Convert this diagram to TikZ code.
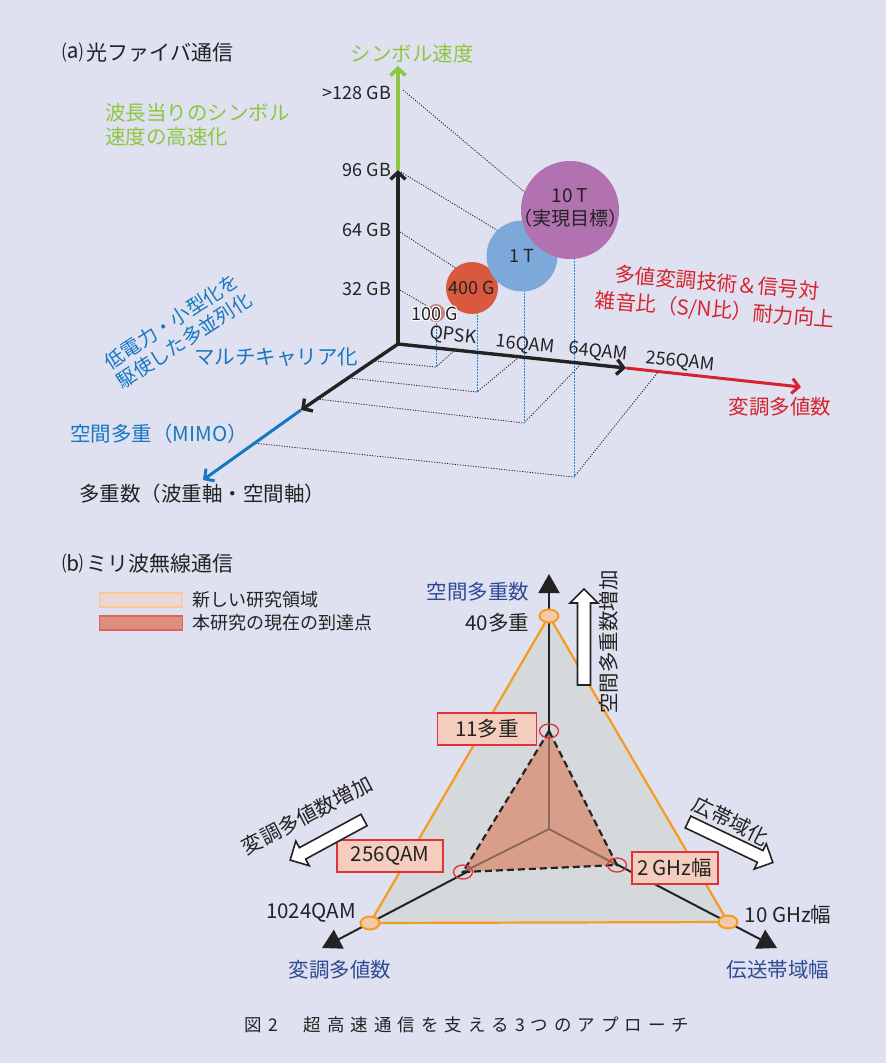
\documentclass[tikz,border=0pt]{standalone}
\usepackage{fontspec}
\setmainfont{Noto Sans CJK JP}
\usetikzlibrary{arrows.meta}
\definecolor{bg}{RGB}{223,225,240}
\definecolor{ink}{RGB}{35,35,35}
\definecolor{grn}{RGB}{141,198,63}
\definecolor{blu}{RGB}{22,120,195}
\definecolor{dotblu}{RGB}{20,140,215}
\definecolor{rd}{RGB}{215,35,45}
\definecolor{dblu}{RGB}{46,74,150}
\definecolor{bA}{RGB}{196,110,105}
\definecolor{bB}{RGB}{217,88,62}
\definecolor{bC}{RGB}{125,168,218}
\definecolor{bD}{RGB}{178,114,176}
\definecolor{org}{RGB}{245,155,30}
\definecolor{trigray}{RGB}{213,217,219}
\definecolor{innerfill}{RGB}{217,158,137}
\definecolor{innerline}{RGB}{140,106,92}
\definecolor{boxfill}{RGB}{245,205,190}
\definecolor{boxline}{RGB}{225,50,60}
\definecolor{legA}{RGB}{236,214,212}
\definecolor{legAl}{RGB}{247,200,150}
\definecolor{legB}{RGB}{222,142,124}
\definecolor{legBl}{RGB}{217,100,90}
\definecolor{ellfill}{RGB}{245,200,170}
\def\spacedloop#1{\ifx#1\relax\else#1\hspace{6pt}\expandafter\spacedloop\fi}
\newcommand\spacedtext[1]{\spacedloop#1\relax}
\begin{document}
\begin{tikzpicture}[x=1pt,y=-1pt,
  every node/.style={inner sep=0pt,outer sep=0pt,text=ink},
  jp/.style={font=\fontsize{20.5}{27}\selectfont},
  jpt/.style={font=\fontsize{21}{25}\selectfont},
  jpm/.style={font=\fontsize{18}{22}\selectfont},
  barb/.style={-{Straight Barb[length=7pt,width=15pt]}},
  axisA/.style={line width=3.4pt,draw=ink,barb},
  flr/.style={draw=ink,line width=0.8pt,dash pattern=on 1.2pt off 1.4pt},
  vdot/.style={draw=dotblu,line width=0.9pt,dash pattern=on 1.5pt off 1.5pt},
  bubble/.style={circle,inner sep=0pt},
  axisB/.style={draw=ink,line width=2pt,-{Triangle[length=19pt,width=21pt]}},
  valbox/.style={draw=boxline,fill=boxfill,line width=1.2pt,minimum height=32pt,jp},
  hollow/.style={draw=ink,fill=white,line width=1.6pt,line join=miter}
]
\useasboundingbox (0,0) rectangle (886,1063);
\fill[bg] (0,0) rectangle (886,1063);

% ================= (a) =================
\node[jpt,anchor=west] (ta) at (62,53) {⒜\hspace{4pt}光ファイバ通信};
\coordinate (O) at (398,344);
\coordinate (Y96) at (398,170);
\coordinate (Ytop) at (398,66);
\coordinate (Xb) at (626,368);
\coordinate (Xr) at (801,387);
\coordinate (Zb) at (301,410);
\coordinate (Zt) at (203,480);

% dotted projection lines from vertical axis
\coordinate (p128) at (403,90);
\coordinate (p96) at (401,172);
\coordinate (p64) at (400,232);
\coordinate (p32) at (400,290);
\coordinate (e128) at (540,205);
\coordinate (e96) at (510,238);
\coordinate (e64) at (468,276);
\coordinate (e32) at (434,310);
\draw[flr] (p128) -- (e128);
\draw[flr] (p96) -- (e96);
\draw[flr] (p64) -- (e64);
\draw[flr] (p32) -- (e32);

% floor lines
\coordinate (d1) at (375,361);
\coordinate (c1) at (436,367);
\coordinate (a1) at (455,350);
\coordinate (d2) at (349,378);
\coordinate (c2) at (477,392);
\coordinate (a2) at (519,357);
\coordinate (d3) at (317,399);
\coordinate (c3) at (524,423);
\coordinate (a3) at (582,363);
\coordinate (d4) at (253,443);
\coordinate (c4) at (574,477);
\coordinate (a4) at (658,372);
\draw[flr] (d1) -- (c1) -- (a1);
\draw[flr] (d2) -- (c2) -- (a2);
\draw[flr] (d3) -- (c3) -- (a3);
\draw[flr] (d4) -- (c4) -- (a4);

% vertical blue dotted
\coordinate (u1) at (436,320);
\coordinate (u2) at (477,312);
\coordinate (u3) at (524,290);
\coordinate (u4) at (574,258);
\draw[vdot] (u1) -- (c1);
\draw[vdot] (u2) -- (c2);
\draw[vdot] (u3) -- (c3);
\draw[vdot] (u4) -- (c4);

% axes
\draw[axisA] (O) -- (Y96);
\draw[line width=3.6pt,draw=grn,barb] (Y96) -- (Ytop);
\draw[axisA] (O) -- (Xb);
\draw[line width=3pt,draw=rd,barb] (Xb) -- (Xr);
\draw[axisA] (O) -- (Zb);
\draw[line width=3pt,draw=blu,barb] (Zb) -- (Zt);

% bubbles
\node[bubble,fill=bA,opacity=0.8,minimum size=18pt] (g100) at (436,313) {};
\node[bubble,fill=bB,minimum size=52pt] (g400) at (472,288) {};
\node[bubble,fill=bC,minimum size=71pt] (g1t) at (522,256) {};
\node[bubble,fill=bD,minimum size=98pt] (g10t) at (570,210) {};
\node[jpm] (l400) at (472,288) {400 G};
\node[jpm] (l1t) at (522,256) {1 T};
\node[font=\fontsize{19}{23}\selectfont,align=center] (l10t) at (570,208) {10 T\\（実現目標）};
\foreach \dx/\dy [count=\i] in {1/0,-1/0,0/1,0/-1,1/1,-1/1,1/-1,-1/-1}
  \node[jpm,text=white] (h\i) at ({435+\dx},{314+\dy}) {100 G};
\node[jpm] (l100) at (435,314) {100 G};

% axis labels
\node[jp,anchor=south,text=grn] (lsym) at (412,63) {シンボル速度};
\node[jpm,anchor=east] (y128) at (391,93) {>128 GB};
\node[jpm,anchor=east] (y96) at (391,170) {96 GB};
\node[jpm,anchor=east] (y64) at (391,230) {64 GB};
\node[jpm,anchor=east] (y32) at (391,289) {32 GB};
\node[jp,anchor=west,text=grn,align=left,font=\fontsize{20.5}{24}\selectfont] (lwave) at (105,125) {波長当りのシンボル\\速度の高速化};
\node[jpm,rotate=-6] (qpsk) at (453,336) {QPSK};
\node[jpm,rotate=-6] (q16) at (525,345) {16QAM};
\node[jpm,rotate=-6] (q64) at (598,352) {64QAM};
\node[jpm,rotate=-6] (q256) at (680,362) {256QAM};
\node[jp,text=rd,rotate=-4.7,align=center] (lred) at (716,297) {多値変調技術＆信号対\\雑音比（S/N比）耐力向上};
\node[jp,text=rd] (lmod) at (780,407) {変調多値数};
\node[text=blu,rotate=33,align=left,font=\fontsize{19.5}{23}\selectfont] (lpar) at (178,331) {低電力・小型化を\\駆使した多並列化};
\node[jp,text=blu] (lmc) at (276,357) {マルチキャリア化};
\node[jp,text=blu] (lmimo) at (159,434) {空間多重（MIMO）};
\node[jp,anchor=west] (lmux) at (79,494) {多重数（波重軸・空間軸）};

% ================= (b) =================
\node[jpt,anchor=west] (tb) at (62,564) {⒝\hspace{4pt}ミリ波無線通信};
\node[draw=legAl,fill=legA,line width=1.2pt,minimum width=83pt,minimum height=14pt] (legr1) at (141,600) {};
\node[draw=legBl,fill=legB,line width=1.2pt,minimum width=83pt,minimum height=14pt] (legr2) at (141,623) {};
\node[jpm,anchor=west] (legt1) at (192,600) {新しい研究領域};
\node[jpm,anchor=west] (legt2) at (192,623) {本研究の現在の到達点};

\coordinate (C) at (549,829);
\coordinate (T) at (549,616);
\coordinate (L) at (370,923);
\coordinate (R) at (728,922);
\coordinate (Ta) at (549,574);
\coordinate (La) at (322,948);
\coordinate (Ra) at (777,948);
\coordinate (iT) at (549,731);
\coordinate (iL) at (463,872);
\coordinate (iR) at (617,865);

\filldraw[draw=org,fill=trigray,line width=2.2pt,line join=miter] (T) -- (L) -- (R) -- cycle;
\draw[axisB] (C) -- (Ta);
\draw[axisB] (C) -- (La);
\draw[axisB] (C) -- (Ra);
\fill[innerfill] (iT) -- (iL) -- (iR) -- cycle;
\draw[innerline,line width=2pt] (C) -- (iT);
\draw[innerline,line width=2pt] (C) -- (iL);
\draw[innerline,line width=2pt] (C) -- (iR);
\draw[ink,line width=2.2pt,dash pattern=on 7pt off 4pt] (iT) -- (iL) -- (iR) -- cycle;

% outer vertex ellipses
\draw[org,fill=ellfill,line width=2pt] (T) ellipse [x radius=9.5pt,y radius=6.5pt];
\draw[org,fill=ellfill,line width=2pt] (L) ellipse [x radius=9.5pt,y radius=6.5pt];
\draw[org,fill=ellfill,line width=2pt] (R) ellipse [x radius=9.5pt,y radius=6.5pt];
% inner vertex markers
\foreach \p in {iT,iL,iR}{
  \draw[boxline,line width=1.3pt] (\p) ellipse [x radius=9.5pt,y radius=7pt];
  \fill[ink] (\p) circle [radius=1.6pt];
}

% value boxes
\node[valbox,minimum width=99pt] (b11) at (487,729) {11多重};
\node[valbox,minimum width=106pt] (b256) at (390,856) {256QAM};
\node[valbox,minimum width=86pt] (b2g) at (675,868) {2\,GHz幅};

% outer labels
\node[jp,text=dblu] (lsp) at (478,592) {空間多重数};
\node[jp,anchor=east] (l40) at (529,623) {40多重};
\node[jp] (l1024) at (311,913) {1024QAM};
\node[jp,text=dblu] (lmodb) at (340,970) {変調多値数};
\node[jp] (l10g) at (788,915) {10 GHz幅};
\node[jp,text=dblu] (lbw) at (778,970) {伝送帯域幅};

% hollow arrows
\begin{scope}[shift={(584,685)},rotate=90]
  \draw[hollow] (0,6.5) -- (82,6.5) -- (82,14) -- (96,0) -- (82,-14) -- (82,-6.5) -- (0,-6.5) -- cycle;
\end{scope}
\node[jp,rotate=90] (lup) at (609,642) {空間多重数増加};
\begin{scope}[shift={(364,820)},rotate=208.5]
  \draw[hollow] (0,6.5) -- (70,6.5) -- (70,14) -- (84,0) -- (70,-14) -- (70,-6.5) -- (0,-6.5) -- cycle;
\end{scope}
\node[jp,rotate=27.5] (lleft) at (307,815) {変調多値数増加};
\begin{scope}[shift={(688,822)},rotate=-25.5]
  \draw[hollow] (0,6.5) -- (80,6.5) -- (80,14) -- (94,0) -- (80,-14) -- (80,-6.5) -- (0,-6.5) -- cycle;
\end{scope}
\node[jp,rotate=-26.5] (lright) at (731,821) {広帯域化};

% caption
\node[font=\fontsize{17.5}{21}\selectfont] (cap) at (467,1025) {\spacedtext{図2}\hspace{20pt}\spacedtext{超高速通信を支える3つのアプローチ}};
\end{tikzpicture}
\end{document}
